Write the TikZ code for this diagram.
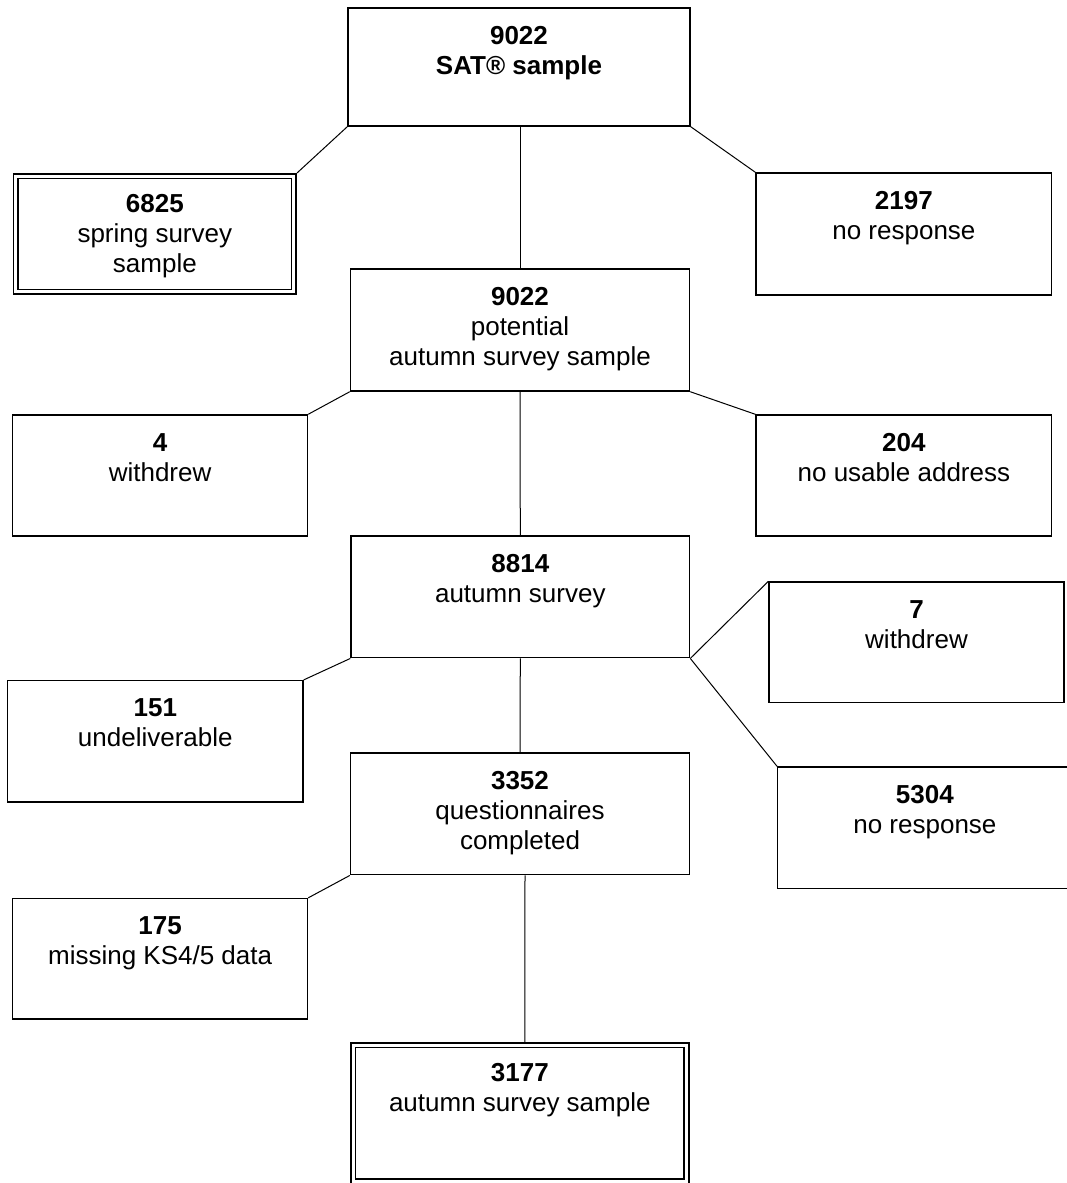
\documentclass[tikz,border=0pt]{standalone}
\usepackage{fontspec}
\setmainfont{Liberation Sans}
\usepackage{tikz}

\begin{document}
\begin{tikzpicture}[x=1pt,y=-1pt,
    font=\fontsize{26pt}{30pt}\selectfont,
    box/.style={draw,line width=1.4pt,inner sep=0pt,align=center},
    samplebox/.style={box,double,line width=1.7pt,double distance=3pt,outer sep=3.2pt},
    link/.style={line width=1pt}]

                \useasboundingbox (0,0) rectangle (1066,1183);

                % SAT sample
                \node[box,minimum width=342pt,text height=66pt,text depth=52pt] (sat) at (519,67) {\textbf{9022}\\\textbf{SAT® sample}};
                \node[samplebox,minimum width=277.9pt,text height=96pt,text depth=19.6pt] (spring) at (154.85,234) {\textbf{6825}\\spring survey\\sample};
                \node[box,minimum width=295.7pt,text height=66pt,text depth=56pt] (noresp) at (903.9,234) {\textbf{2197}\\no response};

                % Potential autumn sample
                \node[box,minimum width=339pt,text height=96pt,text depth=26pt] (potential) at (520,330) {\textbf{9022}\\potential\\autumn survey sample};
                \node[box,minimum width=294.8pt,text height=66pt,text depth=55pt] (withdrewA) at (160.1,475.5) {\textbf{4}\\withdrew};
                \node[box,minimum width=295.7pt,text height=66pt,text depth=55pt] (address) at (903.9,475.5) {\textbf{204}\\no usable address};

                % Autumn survey
                \node[box,minimum width=338.6pt,text height=66pt,text depth=55.7pt] (autumn) at (520.3,596.9) {\textbf{8814}\\autumn survey};
                \node[box,minimum width=295pt,text height=66pt,text depth=54.7pt] (withdrewB) at (916.5,642.4) {\textbf{7}\\withdrew};
                \node[box,minimum width=295.4pt,text height=66pt,text depth=55.4pt] (undeliv) at (155.3,741.3) {\textbf{151}\\undeliverable};
                \node[box,minimum width=294.3pt,text height=66pt,text depth=55.6pt] (noresptwo) at (924.9,827.8) {\textbf{5304}\\no response};

                % Questionnaires
                \node[box,minimum width=339pt,text height=96pt,text depth=25.7pt] (completed) at (520,813.9) {\textbf{3352}\\questionnaires\\completed};
                \node[box,minimum width=294.8pt,text height=66pt,text depth=54.3pt] (missing) at (160.1,958.7) {\textbf{175}\\missing KS4/5 data};

                % Final sample
                \node[samplebox,minimum width=333.2pt,text height=66pt,text depth=70.2pt] (final) at (519.8,1113.3) {\textbf{3177}\\autumn survey sample};

                % Joining lines
                \draw[link] (sat.south west) -- (spring.north east);
                \draw[link] (potential.north) -- (potential.north |- sat.south);
                \draw[link] (sat.south east) -- (noresp.north west);
                \draw[link] (potential.south west) -- (withdrewA.north east);
                \draw[link] (potential.south) -- (autumn.north);
                \draw[link] (potential.south east) -- (address.north west);
                \draw[link] (autumn.south west) -- (undeliv.north east);
                \draw[link] (autumn.south) -- (completed.north);
                \draw[link] (autumn.south east) -- (withdrewB.north west);
                \draw[link] (autumn.south east) -- (noresptwo.north west);
                \draw[link] (completed.south west) -- (missing.north east);
                \draw[link] ([xshift=5pt]completed.south) -- ([xshift=5pt]final.north);

            \end{tikzpicture}
\end{document}
